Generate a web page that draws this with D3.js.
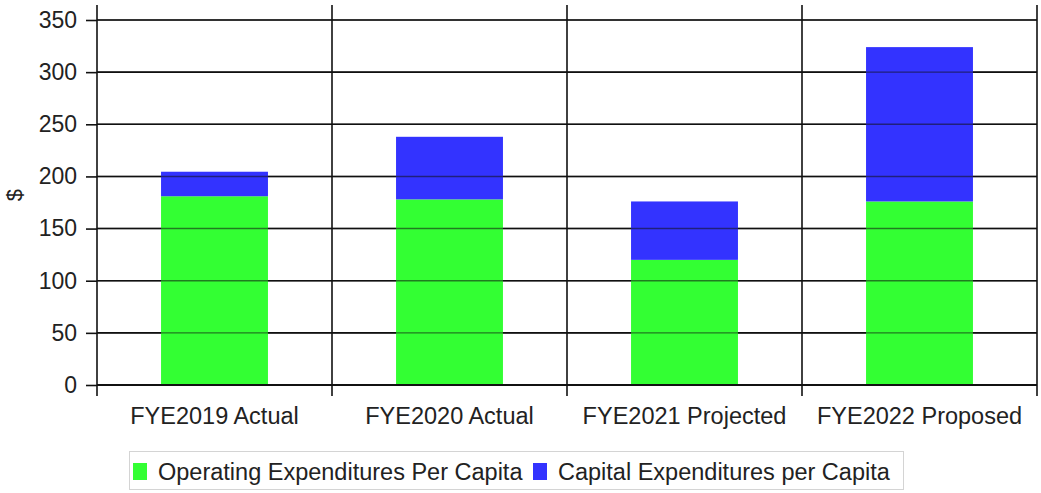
<!DOCTYPE html>
<html>
<head>
<meta charset="utf-8">
<script src="https://cdn.jsdelivr.net/npm/d3@7"></script>
<style>
  html, body { margin: 0; padding: 0; background: #fff; }
  svg { display: block; font-family: "Liberation Sans", Arial, sans-serif; }
</style>
</head>
<body>
<svg id="chart" width="1041" height="493"></svg>
<script>
// Per-capita expenditures by fiscal year
const categories = ["FYE2019 Actual", "FYE2020 Actual", "FYE2021 Projected", "FYE2022 Proposed"];
const operating = [181, 178, 120, 176];
const capital = [23.5, 60, 56, 148];
const seriesNames = ["Operating Expenditures Per Capita", "Capital Expenditures per Capita"];
const yTicks = [0, 50, 100, 150, 200, 250, 300, 350];

const colors = ["#33ff33", "#3333ff"];
const fontFamily = "Liberation Sans, Arial, sans-serif";

const svg = d3.select("#chart");
const plotLeft = 97, plotRight = 1037, plotTop = 20, plotBottom = 385;

const x = d3.scaleBand().domain(categories).range([plotLeft, plotRight]).padding(0);
const y = d3.scaleLinear().domain([0, 350]).range([plotBottom, plotTop]);

const barFrac = 0.455;

// horizontal gridlines
svg.append("g").selectAll("line").data(yTicks.filter(d => d > 0)).join("line")
  .attr("x1", plotLeft).attr("x2", plotRight)
  .attr("y1", d => y(d)).attr("y2", d => y(d))
  .attr("stroke", "#111").attr("stroke-width", 1.6);

// stacked bars
const stackData = categories.map((c, i) => ({ cat: c, op: operating[i], cap: capital[i] }));
const stack = d3.stack().keys(["op", "cap"])(stackData);

stack.forEach((layer, li) => {
  svg.append("g").selectAll("rect").data(layer).join("rect")
    .attr("x", d => x(d.data.cat) + x.bandwidth() * (1 - barFrac) / 2)
    .attr("width", x.bandwidth() * barFrac)
    .attr("y", d => y(d[1]))
    .attr("height", d => y(d[0]) - y(d[1]))
    .attr("fill", colors[li]);
});

// gridlines drawn over bars (visible through the fills)
svg.append("g").selectAll("line").data(yTicks.filter(d => d > 0)).join("line")
  .attr("x1", plotLeft).attr("x2", plotRight)
  .attr("y1", d => y(d)).attr("y2", d => y(d))
  .attr("stroke", "#111").attr("stroke-opacity", 0.55).attr("stroke-width", 1.4);

// vertical category separators
const seps = categories.map(c => x(c)).concat([plotRight]);
svg.append("g").selectAll("line").data(seps).join("line")
  .attr("x1", d => d).attr("x2", d => d)
  .attr("y1", 5).attr("y2", 396)
  .attr("stroke", "#111").attr("stroke-width", 1.6);

// y axis
const yAxis = d3.axisLeft(y).tickValues(yTicks).tickSize(11).tickPadding(9);
const gy = svg.append("g").attr("transform", `translate(${plotLeft},0)`).call(yAxis);
gy.select(".domain").remove();
gy.selectAll(".tick line").attr("stroke", "#111").attr("stroke-width", 1.6);
gy.selectAll(".tick text").attr("font-size", 23).attr("fill", "#222")
  .attr("font-family", fontFamily);

// baseline
svg.append("line").attr("x1", plotLeft).attr("x2", plotRight)
  .attr("y1", y(0)).attr("y2", y(0))
  .attr("stroke", "#111").attr("stroke-width", 2);

// x axis labels
const xAxis = d3.axisBottom(x).tickSize(0).tickPadding(22);
const gx = svg.append("g").attr("transform", `translate(0,${plotBottom})`).call(xAxis);
gx.select(".domain").remove();
gx.selectAll(".tick text").attr("font-size", 23.5).attr("fill", "#222")
  .attr("font-family", fontFamily);

// y axis title
svg.append("text")
  .attr("transform", "translate(22,195) rotate(-90)")
  .attr("text-anchor", "middle")
  .attr("font-size", 22).attr("fill", "#222")
  .attr("font-family", fontFamily)
  .text("$");

// legend
const legend = svg.append("g");
legend.append("rect")
  .attr("x", 129.5).attr("y", 451.5).attr("width", 774).attr("height", 38)
  .attr("fill", "#fff").attr("stroke", "#d4d4d4").attr("stroke-width", 1);
const legendItems = [
  { x: 133, tx: 158, name: seriesNames[0], color: colors[0] },
  { x: 533, tx: 558, name: seriesNames[1], color: colors[1] }
];
legendItems.forEach(it => {
  legend.append("rect").attr("x", it.x).attr("y", 463).attr("width", 14).attr("height", 17)
    .attr("fill", it.color);
  legend.append("text").attr("x", it.tx).attr("y", 480)
    .attr("font-size", 23.5).attr("fill", "#222")
    .attr("font-family", fontFamily).text(it.name);
});
</script>
</body>
</html>
